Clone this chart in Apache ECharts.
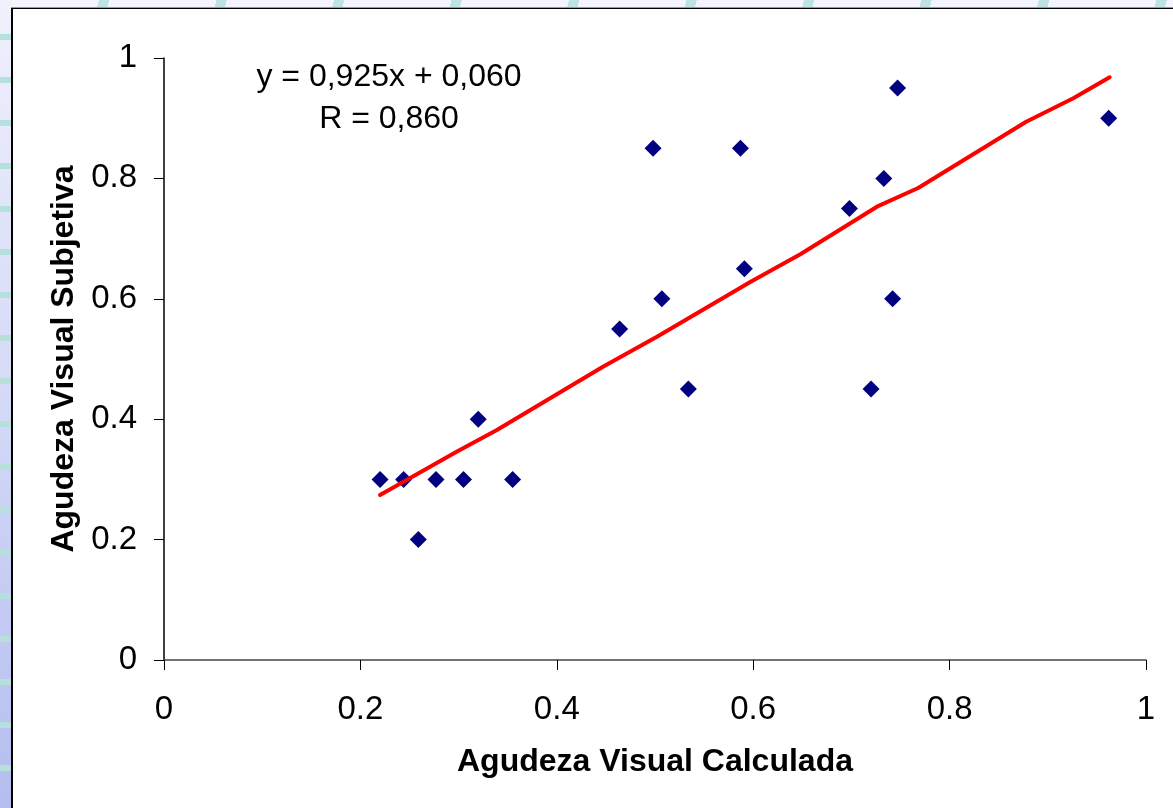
<!DOCTYPE html>
<html>
<head>
<meta charset="utf-8">
<title>Agudeza Visual</title>
<script src="https://cdn.jsdelivr.net/npm/echarts@6/dist/echarts.min.js"></script>
<style>
  html, body { margin: 0; padding: 0; width: 1173px; height: 808px; overflow: hidden; }
  body {
    position: relative;
    background:
      repeating-linear-gradient(104deg, transparent 0px, transparent 96px, #bfe2e2 96px, #bfe2e2 106px, transparent 106px, transparent 114px),
      #f3f4fd;
  }
  #strip {
    position: absolute; left: 0; top: 0; width: 12px; height: 808px;
    background:
      repeating-linear-gradient(180deg, transparent 0px, transparent 34px, #b6e0dc 34px, #b6e0dc 40px, transparent 40px, transparent 43px),
      linear-gradient(180deg, #f0f1fc 0%, #d4d9f6 50%, #b5bdf0 100%);
  }
  #frame {
    position: absolute; left: 11px; top: 7px; width: 1170px; height: 810px;
    background: #ffffff;
    border-top: 1px solid #9a9a9a;
    box-shadow: inset 2px 1px 0 #000;
  }
  #chart { position: absolute; left: 0; top: 0; width: 1173px; height: 808px; }
</style>
</head>
<body>
<div id="strip"></div>
<div id="frame"></div>
<div id="chart"></div>
<script>
// Calculated visual acuity (x) against subjective visual acuity (y)
const calculada = [0.220, 0.244, 0.259, 0.277, 0.305, 0.320, 0.355, 0.464, 0.498, 0.507,
                   0.534, 0.587, 0.591, 0.698, 0.720, 0.733, 0.742, 0.747, 0.962];
const subjetiva = [0.30, 0.30, 0.20, 0.30, 0.30, 0.40, 0.30, 0.55, 0.85, 0.60,
                   0.45, 0.85, 0.65, 0.75, 0.45, 0.80, 0.60, 0.95, 0.90];

// Fitted line as plotted, vertex by vertex
const trendX = [0.220, 0.298, 0.339, 0.447, 0.502, 0.597, 0.648, 0.726, 0.768, 0.878, 0.926, 0.963];
const trendY = [0.274, 0.346, 0.382, 0.487, 0.537, 0.628, 0.674, 0.753, 0.784, 0.894, 0.933, 0.968];

const axisTicks = [0, 0.2, 0.4, 0.6, 0.8, 1];
const equationLines = ['y = 0,925x + 0,060', 'R = 0,860'];

const FONT = '"Liberation Sans", Arial, sans-serif';

const points = calculada.map((x, i) => [x, subjetiva[i]]);
const trend = trendX.map((x, i) => [x, trendY[i]]);

const chart = echarts.init(document.getElementById('chart'), null, { renderer: 'canvas' });

const axisCommon = {
  type: 'value',
  min: axisTicks[0],
  max: axisTicks[axisTicks.length - 1],
  interval: 0.2,
  splitLine: { show: false },
  axisTick: { show: true, length: 10, lineStyle: { color: '#000', width: 1 } },
  nameLocation: 'middle',
  nameTextStyle: { fontFamily: FONT, fontSize: 32, fontWeight: 'bold', color: '#000' }
};

const tickLabel = v => String(+v.toFixed(1));

chart.setOption({
  animation: false,
  backgroundColor: 'transparent',
  grid: { left: 164, right: 27, top: 58, bottom: 148, containLabel: false },
  xAxis: Object.assign({}, axisCommon, {
    name: 'Agudeza Visual Calculada',
    nameGap: 86,
    axisLine: { show: true, onZero: false, lineStyle: { color: '#444', width: 1.5 } },
    axisLabel: { margin: 33, fontFamily: FONT, fontSize: 33, color: '#000', formatter: tickLabel }
  }),
  yAxis: Object.assign({}, axisCommon, {
    name: 'Agudeza Visual Subjetiva',
    nameGap: 80,
    nameRotate: 90,
    axisLine: { show: true, onZero: false, lineStyle: { color: '#000', width: 1.5 } },
    axisLabel: { margin: 27, fontFamily: FONT, fontSize: 33, color: '#000', formatter: tickLabel }
  }),
  graphic: equationLines.map((line, i) => ({
    type: 'text',
    x: 389,
    y: 77 + i * 42,
    style: {
      text: line,
      font: '32px ' + FONT,
      fill: '#000',
      align: 'center',
      verticalAlign: 'middle'
    }
  })),
  series: [
    {
      type: 'scatter',
      data: points,
      symbol: 'diamond',
      symbolSize: 17,
      itemStyle: { color: '#000080', opacity: 1 },
      z: 2
    },
    {
      type: 'line',
      data: trend,
      showSymbol: false,
      symbol: 'none',
      smooth: false,
      lineStyle: { color: '#ff0000', width: 4, cap: 'round', join: 'round' },
      z: 3
    }
  ]
});
</script>
</body>
</html>
